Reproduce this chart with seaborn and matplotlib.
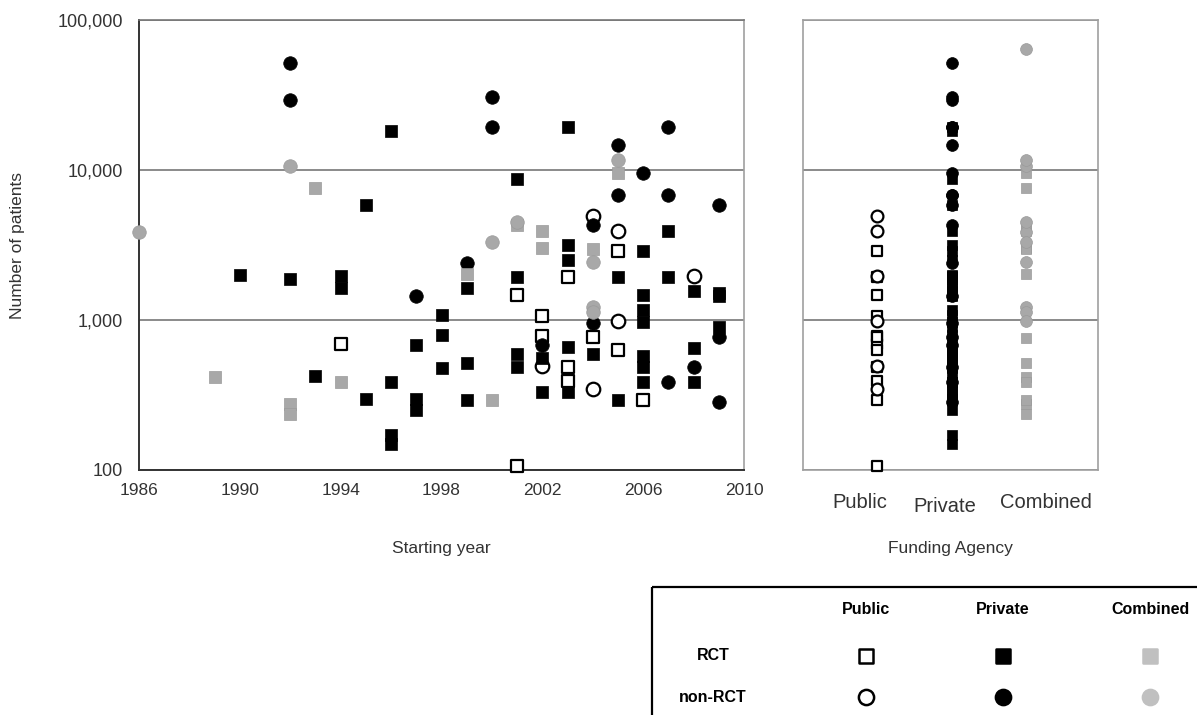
import numpy as np
import pandas as pd
import matplotlib
matplotlib.use("Agg")
import matplotlib.pyplot as plt
from matplotlib.patches import Rectangle
from matplotlib.ticker import FixedLocator, FuncFormatter, NullLocator
import seaborn as sns

# ---- data (starting year, number of patients) ----
public_rct_year = [1994, 2001, 2001, 2002, 2002, 2003, 2003, 2003, 2004, 2005, 2005, 2006]
public_rct_n = [690, 1470, 106, 1064, 782, 1935, 486, 392, 770, 2900, 630, 293]

public_non_year = [2002, 2004, 2004, 2005, 2005, 2008]
public_non_n = [490, 4940, 347, 3900, 980, 1950]

private_rct_year = [1990, 1992, 1993, 1994, 1994, 1995, 1995, 1996, 1996, 1996, 1996,
                    1997, 1997, 1997, 1998, 1998, 1998, 1999, 1999, 1999,
                    2001, 2001, 2001, 2001, 2002, 2002, 2003, 2003, 2003, 2003, 2003,
                    2004, 2005, 2005, 2006, 2006, 2006, 2006, 2006, 2006, 2006,
                    2007, 2007, 2008, 2008, 2008, 2009, 2009, 2009]
private_rct_n = [2000, 1880, 425, 1950, 1630, 5840, 297, 18200, 386, 170, 150,
                 680, 297, 251, 1080, 790, 480, 1635, 517, 293,
                 8700, 1935, 590, 486, 560, 331, 19350, 3160, 2510, 660, 330,
                 594, 1935, 293, 2900, 1470, 1170, 970, 575, 486, 386,
                 3920, 1935, 1560, 650, 386, 1520, 1450, 900]

private_non_year = [1992, 1992, 1997, 1999, 2000, 2000, 2002, 2004, 2004, 2005, 2005,
                    2006, 2007, 2007, 2007, 2008, 2009, 2009, 2009]
private_non_n = [51700, 29300, 1450, 2410, 30700, 19350, 680, 4300, 955, 14680, 6810,
                 9600, 19350, 6810, 386, 486, 5840, 770, 285]

combined_rct_year = [1989, 1992, 1992, 1993, 1994, 1999, 2000, 2001, 2002, 2002, 2004, 2005]
combined_rct_n = [420, 275, 236, 7600, 386, 2030, 293, 4300, 3900, 3020, 2960, 9550]

combined_non_year = [1986, 1992, 2000, 2001, 2004, 2004, 2004, 2005]
combined_non_n = [3860, 10600, 3310, 4500, 2440, 1220, 1130, 11660]

# studies only shown in the funding panel (no starting year)
extra_funding = ["Combined", "Combined", "Combined", "Combined"]
extra_design = ["non-RCT", "non-RCT", "RCT", "RCT"]
extra_n = [64000, 980, 760, 520]

funders = ["Public", "Private", "Combined"]
designs = ["RCT", "non-RCT"]
year_ticks = [1986, 1990, 1994, 1998, 2002, 2006, 2010]
y_ticks = [100, 1000, 10000, 100000]

groups = [
    ("Public", "RCT", public_rct_year, public_rct_n),
    ("Public", "non-RCT", public_non_year, public_non_n),
    ("Private", "RCT", private_rct_year, private_rct_n),
    ("Private", "non-RCT", private_non_year, private_non_n),
    ("Combined", "RCT", combined_rct_year, combined_rct_n),
    ("Combined", "non-RCT", combined_non_year, combined_non_n),
]
frames = [pd.DataFrame({"year": yr, "patients": n, "funding": f, "design": d})
          for f, d, yr, n in groups]
frames.append(pd.DataFrame({"year": np.nan, "patients": extra_n,
                            "funding": extra_funding, "design": extra_design}))
df = pd.concat(frames, ignore_index=True)

# marker look per funding / design
face = {"Public": "white", "Private": "black", "Combined": "#a8a8a8"}
edge = {"Public": "black", "Private": "black", "Combined": "#9a9a9a"}
lw = {"Public": 1.6, "Private": 0.5, "Combined": 0.5}
mark = {"RCT": "s", "non-RCT": "o"}

sns.set_style("white")
plt.rcParams["font.family"] = ["Liberation Sans", "DejaVu Sans"]
txt = "#333333"

fig = plt.figure(figsize=(11.97, 7.15), dpi=100)
ax1 = fig.add_axes([139 / 1197, 1 - 470 / 715, 605 / 1197, 450 / 715])
ax2 = fig.add_axes([803 / 1197, 1 - 470 / 715, 295 / 1197, 450 / 715])

for ax in (ax1, ax2):
    ax.set_yscale("log")
    ax.set_ylim(100, 100000)

# ---- left panel: patients by starting year ----
for f in funders:
    for d in designs:
        sub = df[(df.funding == f) & (df.design == d) & df.year.notna()]
        sns.scatterplot(data=sub, x="year", y="patients", ax=ax1,
                        marker=mark[d], s=80 if d == "RCT" else 95,
                        color=face[f], edgecolor=edge[f], linewidth=lw[f],
                        clip_on=False, zorder=4, legend=False)

ax1.set_xlim(1986, 2010)
ax1.xaxis.set_major_locator(FixedLocator(year_ticks))
ax1.yaxis.set_major_locator(FixedLocator(y_ticks))
ax1.yaxis.set_minor_locator(NullLocator())
ax1.yaxis.set_major_formatter(FuncFormatter(lambda v, p: f"{int(v):,}"))
ax1.grid(axis="y", which="major", color="#777777", lw=1.2)
ax1.grid(axis="x", visible=False)
for s in ("left", "bottom"):
    ax1.spines[s].set_color("#333333")
    ax1.spines[s].set_linewidth(1.4)
ax1.spines["top"].set_color("#777777")
ax1.spines["top"].set_linewidth(1.2)
ax1.spines["right"].set_color("#a0a0a0")
ax1.spines["right"].set_linewidth(1.2)
ax1.tick_params(axis="x", direction="inout", length=7, width=1.2, colors=txt,
                labelsize=12.5, pad=6)
ax1.tick_params(axis="y", direction="inout", length=7, width=1.2, colors=txt,
                labelsize=13, pad=8)
ax1.set_xlabel("")
ax1.set_ylabel("")

# ---- right panel: patients by funding agency ----
for f in funders:
    for d in designs:
        sub = df[(df.funding == f) & (df.design == d)]
        sns.stripplot(data=sub, x="funding", y="patients", order=funders, ax=ax2,
                      jitter=False, marker=mark[d], size=7.5 if d == "RCT" else 8.5,
                      color=face[f], edgecolor=edge[f], linewidth=lw[f],
                      clip_on=False, zorder=4)

ax2.set_xlim(-1.0, 2.97)
ax2.set_ylim(100, 100000)
ax2.yaxis.set_major_locator(FixedLocator(y_ticks))
ax2.yaxis.set_minor_locator(NullLocator())
ax2.set_yticklabels([])
ax2.set_xticklabels([])
ax2.grid(axis="y", which="major", color="#777777", lw=1.2)
ax2.grid(axis="x", visible=False)
for s in ax2.spines.values():
    s.set_color("#a0a0a0")
    s.set_linewidth(1.2)
ax2.tick_params(axis="both", length=0)
ax2.set_xlabel("")
ax2.set_ylabel("")

# category names under the funding panel (spread wider than the columns)
for lx, ly, f in zip([860, 945, 1046], [503, 507, 503], funders):
    fig.text(lx / 1197, 1 - ly / 715, f, ha="center", va="center",
             fontsize=14.5, color=txt)

# axis titles
fig.text(441 / 1197, 1 - 548 / 715, "Starting year", ha="center", va="center",
         fontsize=12.5, color=txt)
fig.text(950 / 1197, 1 - 548 / 715, "Funding Agency", ha="center", va="center",
         fontsize=12.5, color=txt)
fig.text(18 / 1197, 1 - 245 / 715, "Number of patients", ha="center", va="center",
         rotation=90, fontsize=12.5, color=txt)

# ---- key table at the bottom right ----
key = fig.add_axes([0, 0, 1, 1], facecolor="none")
key.set_xlim(0, 1197)
key.set_ylim(715, 0)
key.axis("off")
key.add_patch(Rectangle((652, 587), 600, 200, fill=False, ec="black", lw=1.6,
                        clip_on=False))
col_x = [866, 1003, 1150]
row_y = [656, 697]
for cx, f in zip(col_x, funders):
    key.text(cx, 609, f, ha="center", va="center", fontsize=11.5,
             fontweight="bold", color="black")
key_face = {"Public": "white", "Private": "black", "Combined": "#c0c0c0"}
key_edge = {"Public": "black", "Private": "black", "Combined": "#c0c0c0"}
for ry, d in zip(row_y, designs):
    key.text(713, ry, d, ha="center", va="center", fontsize=11.5,
             fontweight="bold", color="black")
    for cx, f in zip(col_x, funders):
        key.scatter([cx], [ry], marker=mark[d], s=100 if d == "RCT" else 120,
                    c=key_face[f], edgecolors=key_edge[f], linewidths=1.8,
                    clip_on=False)

fig.savefig("out.png", dpi=100)
